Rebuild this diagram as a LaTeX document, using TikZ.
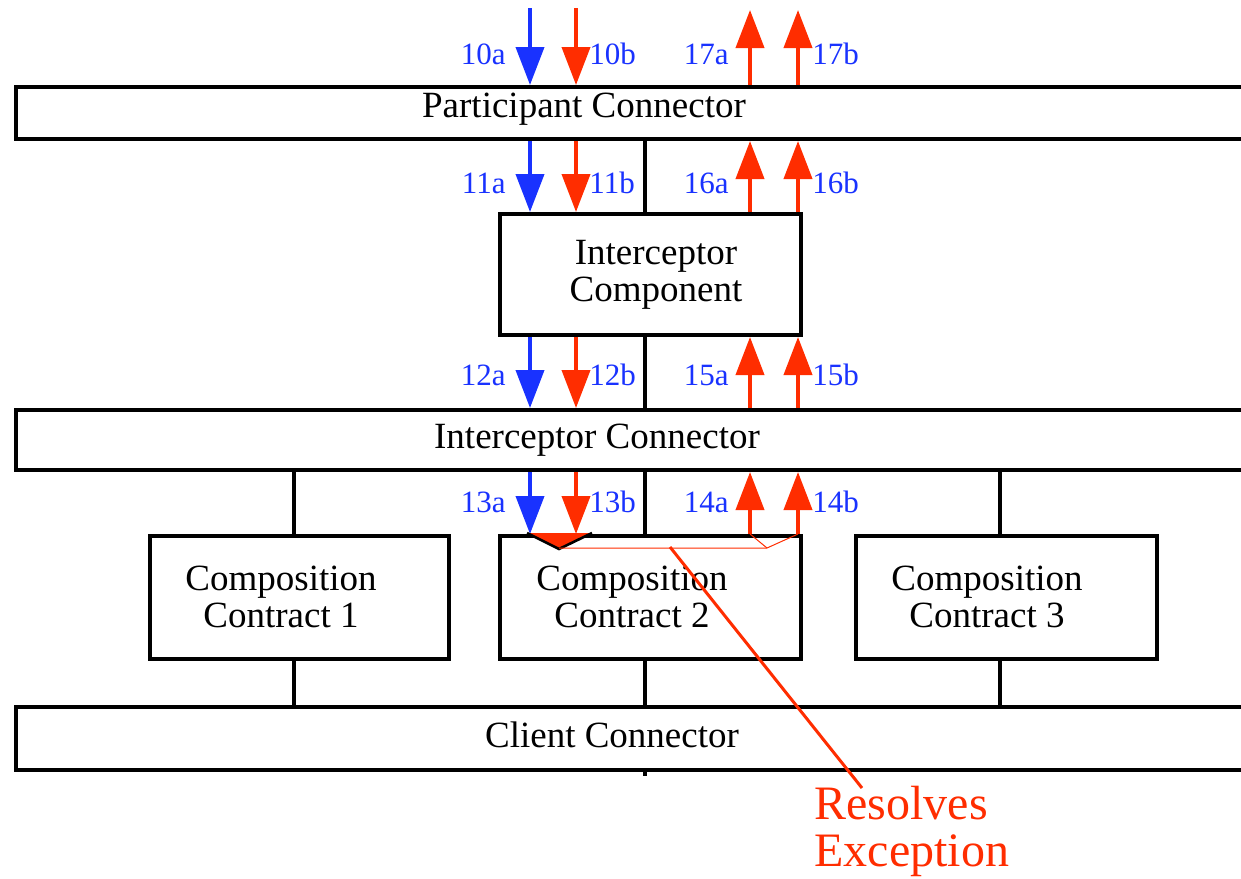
\documentclass[tikz,border=0pt]{standalone}
\usepackage{fontspec}
\setmainfont{Liberation Serif}
\usetikzlibrary{arrows.meta}
\definecolor{myblue}{RGB}{25,50,255}
\definecolor{myred}{RGB}{255,45,0}
\begin{document}
\begin{tikzpicture}[x=0.5pt,y=-0.5pt,
  blk/.style={draw=black,line width=2pt,inner sep=0pt,anchor=north west},
  bartxt/.style={inner sep=0pt,font=\fontsize{18.5}{18.5}\selectfont,align=center},
  lbl/.style={inner sep=0pt,text=myblue,font=\fontsize{15.5}{15.5}\selectfont},
  vline/.style={line width=2pt},
  darr/.style={line width=2pt,-{Triangle[length=19pt,width=14pt]}},
  barr/.style={darr,draw=myblue},
  rarr/.style={darr,draw=myred}]
\useasboundingbox (0,0) rectangle (1241,878);
\fill[white] (0,0) rectangle (1241,878);
% x positions
\coordinate (x294) at (294,0);
\coordinate (x645) at (645,0);
\coordinate (x1000) at (1000,0);
\coordinate (xa) at (530,0);
\coordinate (xb) at (576,0);
\coordinate (xc) at (750,0);
\coordinate (xd) at (798,0);
% blocks
\node[blk,minimum width=623pt,minimum height=26pt] (pc) at (14,85) {};
\node[bartxt] (pct) at (584,109) {Participant Connector};
\node[blk,minimum width=150.5pt,minimum height=60.5pt] (ic) at (498,212) {};
\node[bartxt] (ict) at (656,275) {Interceptor\\Component};
\node[blk,minimum width=623pt,minimum height=30pt] (icn) at (14,408) {};
\node[bartxt] (icnt) at (597,440) {Interceptor Connector};
\node[blk,minimum width=149.5pt,minimum height=61.5pt] (cc1) at (148,534) {};
\node[bartxt] (cc1t) at (281,597) {Composition\\Contract 1};
\node[blk,minimum width=150.5pt,minimum height=61.5pt] (cc2) at (498,534) {};
\node[bartxt] (cc2t) at (632,597) {Composition\\Contract 2};
\node[blk,minimum width=150.5pt,minimum height=61.5pt] (cc3) at (854,534) {};
\node[bartxt] (cc3t) at (987,597) {Composition\\Contract 3};
\node[blk,minimum width=623pt,minimum height=31.5pt] (clc) at (14,705) {};
\node[bartxt] (clct) at (612,735) {Client Connector};
% vertical connectors
\draw[vline] (pc.south -| x645) -- (ic.north -| x645);
\draw[vline] (ic.south -| x645) -- (icn.north -| x645);
\draw[vline] (icn.south -| x294) -- (cc1.north -| x294);
\draw[vline] (icn.south -| x645) -- (cc2.north -| x645);
\draw[vline] (icn.south -| x1000) -- (cc3.north -| x1000);
\draw[vline] (cc1.south -| x294) -- (clc.north -| x294);
\draw[vline] (cc2.south -| x645) -- (clc.north -| x645);
\draw[vline] (cc3.south -| x1000) -- (clc.north -| x1000);
\coordinate (tick) at (645,776);
\draw[vline] (clc.south -| x645) -- (tick);
% arrows
\coordinate (ta) at (530,8);
\coordinate (tb) at (576,8);
\coordinate (tc) at (750,10);
\coordinate (td) at (798,10);
\draw[barr] (ta) -- (pc.north -| xa);
\draw[rarr] (tb) -- (pc.north -| xb);
\draw[rarr] (pc.north -| xc) -- (tc);
\draw[rarr] (pc.north -| xd) -- (td);
\draw[barr] (pc.south -| xa) -- (ic.north -| xa);
\draw[rarr] (pc.south -| xb) -- (ic.north -| xb);
\draw[rarr] (ic.north -| xc) -- (pc.south -| xc);
\draw[rarr] (ic.north -| xd) -- (pc.south -| xd);
\draw[barr] (ic.south -| xa) -- (icn.north -| xa);
\draw[rarr] (ic.south -| xb) -- (icn.north -| xb);
\draw[rarr] (icn.north -| xc) -- (ic.south -| xc);
\draw[rarr] (icn.north -| xd) -- (ic.south -| xd);
\draw[barr] (icn.south -| xa) -- (cc2.north -| xa);
\draw[rarr] (icn.south -| xb) -- (cc2.north -| xb);
\draw[rarr] (cc2.north -| xc) -- (icn.south -| xc);
\draw[rarr] (cc2.north -| xd) -- (icn.south -| xd);
% labels
\node[lbl,anchor=east] (l10a) at (506,54) {10a};
\node[lbl,anchor=west] (l10b) at (589,54) {10b};
\node[lbl,anchor=east] (l17a) at (729,54) {17a};
\node[lbl,anchor=west] (l17b) at (812,54) {17b};
\node[lbl,anchor=east] (l11a) at (506,183) {11a};
\node[lbl,anchor=west] (l11b) at (589,183) {11b};
\node[lbl,anchor=east] (l16a) at (729,183) {16a};
\node[lbl,anchor=west] (l16b) at (812,183) {16b};
\node[lbl,anchor=east] (l12a) at (506,375) {12a};
\node[lbl,anchor=west] (l12b) at (589,375) {12b};
\node[lbl,anchor=east] (l15a) at (729,375) {15a};
\node[lbl,anchor=west] (l15b) at (812,375) {15b};
\node[lbl,anchor=east] (l13a) at (506,502) {13a};
\node[lbl,anchor=west] (l13b) at (589,502) {13b};
\node[lbl,anchor=east] (l14a) at (729,502) {14a};
\node[lbl,anchor=west] (l14b) at (812,502) {14b};
% exception marker
\fill[myred] (527,533) -- (592,533) -- (559,549) -- cycle;
\draw[line width=1.3pt,line join=miter] (527,533) -- (559,549) -- (592,533);
\draw[myred,line width=0.5pt] (559,548) -- (767,548) -- (798,534);
\draw[myred,line width=0.5pt] (750,534) -- (767,548);
% resolves exception
\node[inner sep=0pt,anchor=north west,align=left,text=myred,font=\fontsize{24}{23.5}\selectfont] (res) at (814,786) {Resolves\\Exception};
\coordinate (rs) at (670,547);
\coordinate (re) at (862,788);
\draw[myred,line width=1.5pt] (rs) -- (re);
\end{tikzpicture}
\end{document}
